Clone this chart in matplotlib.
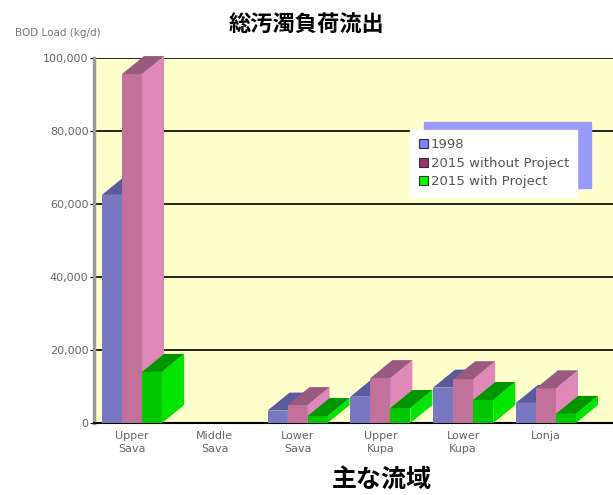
import numpy as np
import matplotlib
matplotlib.use("Agg")
import matplotlib.pyplot as plt
from matplotlib.patches import Polygon, Patch

# =============================================================================
# DATA
# =============================================================================
basins = ["Upper\nSava", "Middle\nSava", "Lower\nSava", "Upper\nKupa", "Lower\nKupa", "Lonja"]
load_1998 = [62500, 0, 3400, 7200, 9700, 5500]          # BOD load (kg/d)
load_2015_without = [95600, 0, 4900, 12300, 12000, 9500]
load_2015_with = [14000, 0, 1900, 4100, 6300, 2500]
series_names = ["1998", "2015 without Project", "2015 with Project"]
yticks = [0, 20000, 40000, 60000, 80000, 100000]

# colours: (front, side, top, legend)
colours = [("#7878C2", "#8C8CD8", "#5A5A9E", "#8080FF"),
           ("#C2719B", "#E088B8", "#9A5A80", "#993366"),
           ("#00C800", "#00E600", "#009600", "#00FF00")]

# =============================================================================
# FIGURE
# =============================================================================
fig = plt.figure(figsize=(6.13, 4.95), dpi=100)
ax = fig.add_axes([94/613, 72/495, 519/613, 365/495])
ax.set_facecolor("#FFFFCC")

w = 0.242     # front face width (category units)
dx = 0.266    # depth offset x
dy = 4930     # depth offset y (data units)

series = [load_1998, load_2015_without, load_2015_with]
x = np.arange(len(basins))
for k, vals in enumerate(series):
    front, side, top, _ = colours[k]
    xl = x - 1.5*w + k*w
    z = 3 + k
    ax.bar(xl, vals, width=w, align="edge", color=front, linewidth=0, zorder=z, clip_on=False)
    for xi, v in zip(xl, vals):
        if v <= 0:
            continue
        ax.add_patch(Polygon([(xi+w, 0), (xi+w+dx, dy), (xi+w+dx, v+dy), (xi+w, v)],
                             closed=True, fc=side, ec="none", zorder=z, clip_on=False))
        ax.add_patch(Polygon([(xi, v), (xi+dx, v+dy), (xi+w+dx, v+dy), (xi+w, v)],
                             closed=True, fc=top, ec="none", zorder=z, clip_on=False))

ax.set_xlim(-0.459, 5.81)
ax.set_ylim(0, 100000)
ax.set_xticks(x)
ax.set_xticklabels(basins, fontsize=8, color="#666666", linespacing=1.3)
ax.set_yticks(yticks)
ax.set_yticklabels([f"{v:,}" for v in yticks], fontsize=8, color="#666666")
ax.tick_params(axis="x", length=0, pad=6)
ax.tick_params(axis="y", length=3, color="black", pad=1)

ax.yaxis.grid(True, color="black", linewidth=1.2, zorder=1)
ax.set_axisbelow(True)
for s in ["top", "right"]:
    ax.spines[s].set_visible(False)
ax.spines["left"].set_color("#999999")
ax.spines["left"].set_linewidth(2.5)
ax.spines["bottom"].set_color("black")
ax.spines["bottom"].set_linewidth(1.5)

# legend
handles = [Patch(facecolor=c[3], edgecolor="#333333", linewidth=0.8) for c in colours]
leg = ax.legend(handles, series_names, loc="upper left", bbox_to_anchor=(0.609, 0.803),
                borderaxespad=0, fontsize=9.5, frameon=True, fancybox=False,
                handlelength=0.7, handleheight=0.7, handletextpad=0.2, labelspacing=0.4,
                borderpad=0.65, shadow={"ox": 10, "oy": 6, "color": "#9999FF", "alpha": 1})
leg.get_frame().set_edgecolor("white")
leg.get_frame().set_facecolor("white")
leg.get_frame().set_alpha(1)
for t in leg.get_texts():
    t.set_color("#555555")
leg.set_zorder(10)

# texts
fig.text(15/613, 1 - 33/495, "BOD Load (kg/d)", fontsize=7.5, color="#777777", va="center", ha="left")
fig.text(0.5, 1 - 25/495, "総汚濁負荷流出", fontsize=16, fontweight="bold",
         family=["Noto Sans CJK JP", "DejaVu Sans"], ha="center", va="center")
fig.text(382/613, 1 - 480/495, "主な流域", fontsize=18, fontweight="bold",
         family=["Noto Sans CJK JP", "DejaVu Sans"], ha="center", va="center")

plt.savefig("out.png", dpi=100)
